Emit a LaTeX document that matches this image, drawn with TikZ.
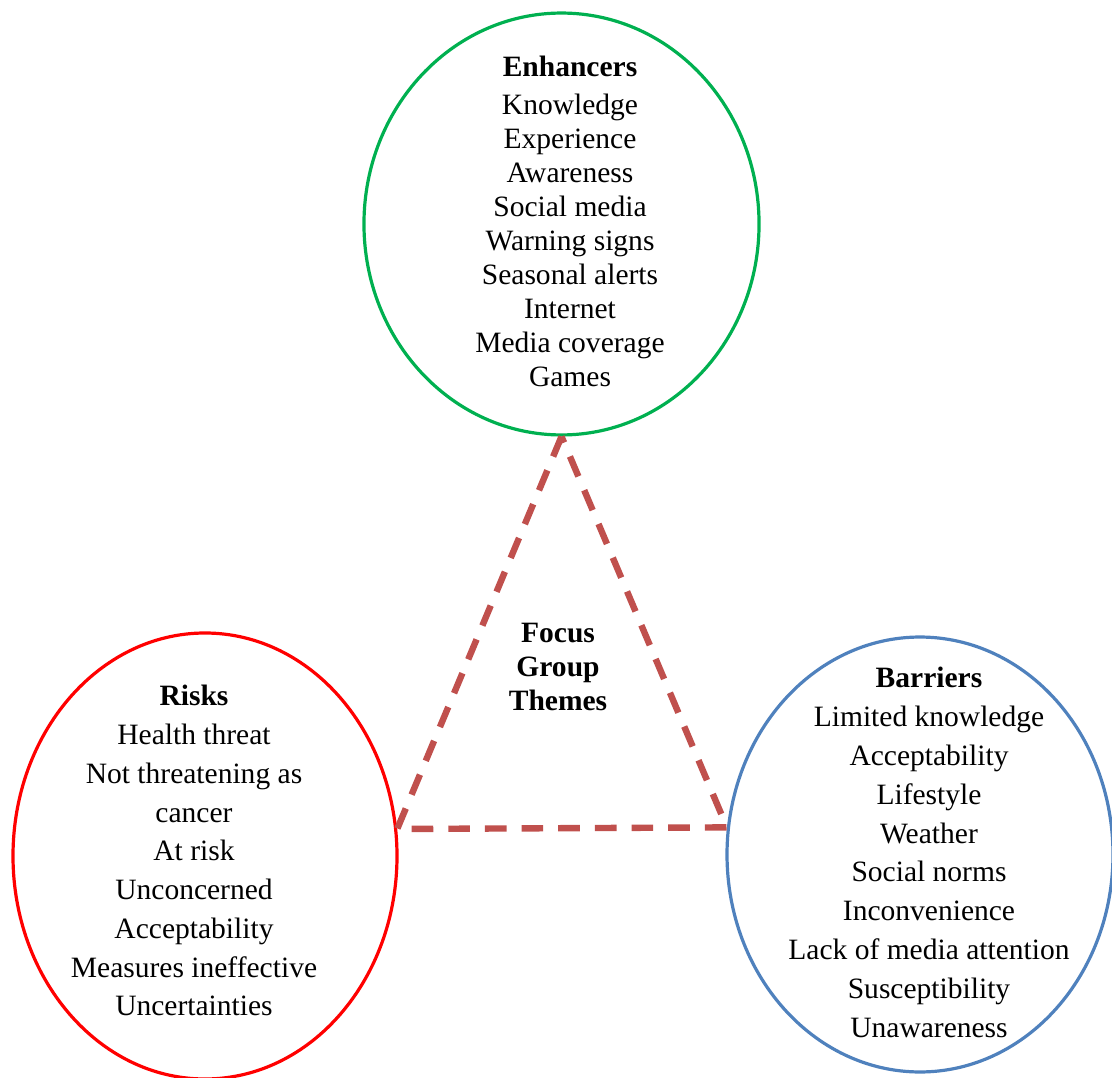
\documentclass[tikz,border=0pt]{standalone}
\usepackage{fontspec}
\setmainfont{Liberation Serif}
\usetikzlibrary{shapes.geometric}
\definecolor{enhgreen}{RGB}{0,176,80}
\definecolor{barblue}{RGB}{79,129,189}
\definecolor{trired}{RGB}{192,80,77}
\begin{document}
\begin{tikzpicture}[x=0.4065pt,y=-0.4065pt]
  \tikzstyle{ring}=[ellipse,inner sep=0pt,line width=1.3pt]
  \tikzstyle{items}=[align=center,anchor=north,inner sep=0pt]
  \tikzstyle{tri}=[draw=trired,line width=2.6pt,dash pattern=on 8.8pt off 6.1pt]
  \useasboundingbox (0,0) rectangle (1112,1078);
  % three theme circles
  \node[ring,draw=enhgreen,minimum width=160.6pt,minimum height=171.5pt] (enh) at (561.5,224) {};
  \node[ring,draw=red,minimum width=156.1pt,minimum height=181.3pt] (risk) at (205,856) {};
  \node[ring,draw=barblue,minimum width=156.9pt,minimum height=176.8pt] (bar) at (920,854.5) {};
  % lists
  \node[items,font=\fontsize{12}{13.8}\selectfont] (enhtext) at (570,56)
    {\textbf{Enhancers}\\[1.6pt] Knowledge\\ Experience\\ Awareness\\ Social media\\
     Warning signs\\ Seasonal alerts\\ Internet\\ Media coverage\\ Games};
  \node[items,font=\fontsize{12}{15.75}\selectfont] (risktext) at (194,685)
    {\textbf{Risks}\\ Health threat\\ Not threatening as\\ cancer\\ At risk\\
     Unconcerned\\ Acceptability\\ Measures ineffective\\ Uncertainties};
  \node[items,font=\fontsize{12}{15.77}\selectfont] (bartext) at (929,667)
    {\textbf{Barriers}\\ Limited knowledge\\ Acceptability\\ Lifestyle\\ Weather\\
     Social norms\\ Inconvenience\\ Lack of media attention\\ Susceptibility\\ Unawareness};
  % centre
  \node[items,font=\bfseries\fontsize{12}{13.8}\selectfont] (focus) at (558,623)
    {Focus\\ Group\\ Themes};
  \draw[tri] (enh.south) -- (risk.8) -- (bar.172) -- cycle;
\end{tikzpicture}
\end{document}
